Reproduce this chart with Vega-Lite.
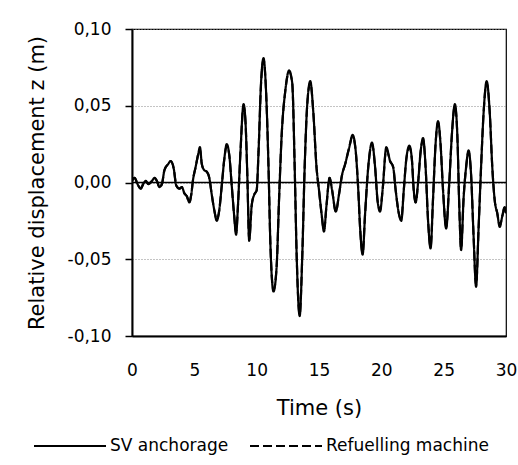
{
  "$schema": "https://vega.github.io/schema/vega-lite/v6.json",
  "width": 374,
  "height": 307,
  "autosize": {"type": "none"},
  "padding": {"left": 132, "top": 29, "right": 12, "bottom": 129},
  "background": "white",
  "config": {
    "font": "DejaVu Sans",
    "view": {"stroke": "black", "strokeWidth": 1.2}
  },
  "data": {
    "values": [
      {"t": 0.0, "SV anchorage": 0.001, "Refuelling machine": 0.001},
      {"t": 0.2, "SV anchorage": 0.003, "Refuelling machine": 0.003},
      {"t": 0.5, "SV anchorage": -0.002, "Refuelling machine": -0.002},
      {"t": 0.7, "SV anchorage": -0.004, "Refuelling machine": -0.004},
      {"t": 0.9, "SV anchorage": -0.001, "Refuelling machine": -0.001},
      {"t": 1.1, "SV anchorage": 0.001, "Refuelling machine": 0.001},
      {"t": 1.3, "SV anchorage": -0.001, "Refuelling machine": -0.001},
      {"t": 1.6, "SV anchorage": 0.001, "Refuelling machine": 0.001},
      {"t": 1.8, "SV anchorage": 0.003, "Refuelling machine": 0.003},
      {"t": 2.0, "SV anchorage": 0.001, "Refuelling machine": 0.001},
      {"t": 2.2, "SV anchorage": -0.003, "Refuelling machine": -0.003},
      {"t": 2.4, "SV anchorage": -0.001, "Refuelling machine": -0.001},
      {"t": 2.6, "SV anchorage": 0.008, "Refuelling machine": 0.008},
      {"t": 2.9, "SV anchorage": 0.012, "Refuelling machine": 0.012},
      {"t": 3.1, "SV anchorage": 0.014, "Refuelling machine": 0.014},
      {"t": 3.35, "SV anchorage": 0.009, "Refuelling machine": 0.009},
      {"t": 3.55, "SV anchorage": -0.002, "Refuelling machine": -0.002},
      {"t": 3.8, "SV anchorage": -0.004, "Refuelling machine": -0.004},
      {"t": 4.0, "SV anchorage": -0.003, "Refuelling machine": -0.003},
      {"t": 4.2, "SV anchorage": -0.007, "Refuelling machine": -0.007},
      {"t": 4.4, "SV anchorage": -0.009, "Refuelling machine": -0.009},
      {"t": 4.6, "SV anchorage": -0.013, "Refuelling machine": -0.013},
      {"t": 4.75, "SV anchorage": -0.008, "Refuelling machine": -0.008},
      {"t": 4.9, "SV anchorage": 0.002, "Refuelling machine": 0.002},
      {"t": 5.1, "SV anchorage": 0.010, "Refuelling machine": 0.010},
      {"t": 5.3, "SV anchorage": 0.018, "Refuelling machine": 0.018},
      {"t": 5.45, "SV anchorage": 0.023, "Refuelling machine": 0.022},
      {"t": 5.6, "SV anchorage": 0.012, "Refuelling machine": 0.012},
      {"t": 5.8, "SV anchorage": 0.008, "Refuelling machine": 0.008},
      {"t": 6.0, "SV anchorage": 0.007, "Refuelling machine": 0.007},
      {"t": 6.2, "SV anchorage": 0.003, "Refuelling machine": 0.003},
      {"t": 6.4, "SV anchorage": -0.008, "Refuelling machine": -0.008},
      {"t": 6.6, "SV anchorage": -0.018, "Refuelling machine": -0.018},
      {"t": 6.8, "SV anchorage": -0.025, "Refuelling machine": -0.024},
      {"t": 7.0, "SV anchorage": -0.018, "Refuelling machine": -0.018},
      {"t": 7.2, "SV anchorage": -0.002, "Refuelling machine": -0.002},
      {"t": 7.4, "SV anchorage": 0.015, "Refuelling machine": 0.015},
      {"t": 7.6, "SV anchorage": 0.025, "Refuelling machine": 0.024},
      {"t": 7.8, "SV anchorage": 0.018, "Refuelling machine": 0.018},
      {"t": 8.0, "SV anchorage": -0.002, "Refuelling machine": -0.002},
      {"t": 8.2, "SV anchorage": -0.022, "Refuelling machine": -0.022},
      {"t": 8.35, "SV anchorage": -0.034, "Refuelling machine": -0.033},
      {"t": 8.5, "SV anchorage": -0.015, "Refuelling machine": -0.015},
      {"t": 8.7, "SV anchorage": 0.020, "Refuelling machine": 0.020},
      {"t": 8.95, "SV anchorage": 0.051, "Refuelling machine": 0.050},
      {"t": 9.1, "SV anchorage": 0.040, "Refuelling machine": 0.040},
      {"t": 9.25, "SV anchorage": 0.005, "Refuelling machine": 0.005},
      {"t": 9.4, "SV anchorage": -0.038, "Refuelling machine": -0.037},
      {"t": 9.6, "SV anchorage": -0.015, "Refuelling machine": -0.015},
      {"t": 9.8, "SV anchorage": -0.008, "Refuelling machine": -0.008},
      {"t": 10.0, "SV anchorage": -0.005, "Refuelling machine": -0.005},
      {"t": 10.15, "SV anchorage": 0.020, "Refuelling machine": 0.020},
      {"t": 10.35, "SV anchorage": 0.065, "Refuelling machine": 0.064},
      {"t": 10.55, "SV anchorage": 0.081, "Refuelling machine": 0.080},
      {"t": 10.75, "SV anchorage": 0.060, "Refuelling machine": 0.060},
      {"t": 10.95, "SV anchorage": 0.010, "Refuelling machine": 0.010},
      {"t": 11.1, "SV anchorage": -0.040, "Refuelling machine": -0.040},
      {"t": 11.35, "SV anchorage": -0.071, "Refuelling machine": -0.070},
      {"t": 11.6, "SV anchorage": -0.055, "Refuelling machine": -0.055},
      {"t": 11.8, "SV anchorage": -0.010, "Refuelling machine": -0.010},
      {"t": 12.0, "SV anchorage": 0.030, "Refuelling machine": 0.030},
      {"t": 12.3, "SV anchorage": 0.060, "Refuelling machine": 0.060},
      {"t": 12.6, "SV anchorage": 0.073, "Refuelling machine": 0.072},
      {"t": 12.85, "SV anchorage": 0.065, "Refuelling machine": 0.065},
      {"t": 13.05, "SV anchorage": 0.010, "Refuelling machine": 0.010},
      {"t": 13.2, "SV anchorage": -0.045, "Refuelling machine": -0.045},
      {"t": 13.45, "SV anchorage": -0.087, "Refuelling machine": -0.086},
      {"t": 13.65, "SV anchorage": -0.050, "Refuelling machine": -0.050},
      {"t": 13.85, "SV anchorage": 0.010, "Refuelling machine": 0.010},
      {"t": 14.05, "SV anchorage": 0.050, "Refuelling machine": 0.050},
      {"t": 14.3, "SV anchorage": 0.066, "Refuelling machine": 0.065},
      {"t": 14.55, "SV anchorage": 0.045, "Refuelling machine": 0.045},
      {"t": 14.8, "SV anchorage": 0.010, "Refuelling machine": 0.010},
      {"t": 15.0, "SV anchorage": -0.005, "Refuelling machine": -0.005},
      {"t": 15.2, "SV anchorage": -0.020, "Refuelling machine": -0.020},
      {"t": 15.4, "SV anchorage": -0.032, "Refuelling machine": -0.031},
      {"t": 15.6, "SV anchorage": -0.015, "Refuelling machine": -0.015},
      {"t": 15.85, "SV anchorage": 0.003, "Refuelling machine": 0.003},
      {"t": 16.05, "SV anchorage": -0.005, "Refuelling machine": -0.005},
      {"t": 16.35, "SV anchorage": -0.019, "Refuelling machine": -0.019},
      {"t": 16.6, "SV anchorage": -0.008, "Refuelling machine": -0.008},
      {"t": 16.85, "SV anchorage": 0.005, "Refuelling machine": 0.005},
      {"t": 17.1, "SV anchorage": 0.012, "Refuelling machine": 0.012},
      {"t": 17.4, "SV anchorage": 0.022, "Refuelling machine": 0.022},
      {"t": 17.7, "SV anchorage": 0.031, "Refuelling machine": 0.030},
      {"t": 17.95, "SV anchorage": 0.020, "Refuelling machine": 0.020},
      {"t": 18.15, "SV anchorage": -0.005, "Refuelling machine": -0.005},
      {"t": 18.3, "SV anchorage": -0.030, "Refuelling machine": -0.030},
      {"t": 18.5, "SV anchorage": -0.047, "Refuelling machine": -0.046},
      {"t": 18.7, "SV anchorage": -0.020, "Refuelling machine": -0.020},
      {"t": 18.95, "SV anchorage": 0.010, "Refuelling machine": 0.010},
      {"t": 19.25, "SV anchorage": 0.026, "Refuelling machine": 0.025},
      {"t": 19.5, "SV anchorage": 0.010, "Refuelling machine": 0.010},
      {"t": 19.7, "SV anchorage": -0.012, "Refuelling machine": -0.012},
      {"t": 19.9, "SV anchorage": -0.019, "Refuelling machine": -0.018},
      {"t": 20.1, "SV anchorage": -0.005, "Refuelling machine": -0.005},
      {"t": 20.4, "SV anchorage": 0.023, "Refuelling machine": 0.022},
      {"t": 20.7, "SV anchorage": 0.014, "Refuelling machine": 0.014},
      {"t": 20.95, "SV anchorage": 0.010, "Refuelling machine": 0.010},
      {"t": 21.15, "SV anchorage": -0.005, "Refuelling machine": -0.005},
      {"t": 21.4, "SV anchorage": -0.020, "Refuelling machine": -0.020},
      {"t": 21.6, "SV anchorage": -0.025, "Refuelling machine": -0.024},
      {"t": 21.8, "SV anchorage": -0.005, "Refuelling machine": -0.005},
      {"t": 22.0, "SV anchorage": 0.015, "Refuelling machine": 0.015},
      {"t": 22.25, "SV anchorage": 0.024, "Refuelling machine": 0.023},
      {"t": 22.45, "SV anchorage": 0.015, "Refuelling machine": 0.015},
      {"t": 22.6, "SV anchorage": -0.005, "Refuelling machine": -0.005},
      {"t": 22.75, "SV anchorage": -0.013, "Refuelling machine": -0.013},
      {"t": 22.95, "SV anchorage": 0.000, "Refuelling machine": 0.000},
      {"t": 23.15, "SV anchorage": 0.020, "Refuelling machine": 0.020},
      {"t": 23.35, "SV anchorage": 0.029, "Refuelling machine": 0.028},
      {"t": 23.55, "SV anchorage": 0.010, "Refuelling machine": 0.010},
      {"t": 23.75, "SV anchorage": -0.025, "Refuelling machine": -0.025},
      {"t": 23.95, "SV anchorage": -0.043, "Refuelling machine": -0.042},
      {"t": 24.15, "SV anchorage": -0.010, "Refuelling machine": -0.010},
      {"t": 24.35, "SV anchorage": 0.025, "Refuelling machine": 0.025},
      {"t": 24.55, "SV anchorage": 0.040, "Refuelling machine": 0.039},
      {"t": 24.75, "SV anchorage": 0.025, "Refuelling machine": 0.025},
      {"t": 24.95, "SV anchorage": -0.005, "Refuelling machine": -0.005},
      {"t": 25.2, "SV anchorage": -0.030, "Refuelling machine": -0.029},
      {"t": 25.45, "SV anchorage": 0.000, "Refuelling machine": 0.000},
      {"t": 25.65, "SV anchorage": 0.030, "Refuelling machine": 0.030},
      {"t": 25.9, "SV anchorage": 0.051, "Refuelling machine": 0.050},
      {"t": 26.1, "SV anchorage": 0.030, "Refuelling machine": 0.030},
      {"t": 26.25, "SV anchorage": -0.015, "Refuelling machine": -0.015},
      {"t": 26.4, "SV anchorage": -0.044, "Refuelling machine": -0.043},
      {"t": 26.6, "SV anchorage": -0.010, "Refuelling machine": -0.010},
      {"t": 26.8, "SV anchorage": 0.010, "Refuelling machine": 0.010},
      {"t": 27.0, "SV anchorage": 0.021, "Refuelling machine": 0.020},
      {"t": 27.2, "SV anchorage": 0.005, "Refuelling machine": 0.005},
      {"t": 27.4, "SV anchorage": -0.035, "Refuelling machine": -0.035},
      {"t": 27.6, "SV anchorage": -0.068, "Refuelling machine": -0.067},
      {"t": 27.8, "SV anchorage": -0.030, "Refuelling machine": -0.030},
      {"t": 28.0, "SV anchorage": 0.010, "Refuelling machine": 0.010},
      {"t": 28.2, "SV anchorage": 0.045, "Refuelling machine": 0.045},
      {"t": 28.45, "SV anchorage": 0.066, "Refuelling machine": 0.065},
      {"t": 28.7, "SV anchorage": 0.045, "Refuelling machine": 0.045},
      {"t": 28.9, "SV anchorage": 0.010, "Refuelling machine": 0.010},
      {"t": 29.1, "SV anchorage": -0.012, "Refuelling machine": -0.012},
      {"t": 29.3, "SV anchorage": -0.020, "Refuelling machine": -0.020},
      {"t": 29.5, "SV anchorage": -0.029, "Refuelling machine": -0.028},
      {"t": 29.7, "SV anchorage": -0.022, "Refuelling machine": -0.022},
      {"t": 29.9, "SV anchorage": -0.016, "Refuelling machine": -0.016},
      {"t": 30.0, "SV anchorage": -0.020, "Refuelling machine": -0.020}
    ]
  },
  "layer": [
    {
      "transform": [{"fold": ["SV anchorage", "Refuelling machine"], "as": ["series", "z"]}],
      "mark": {"type": "line", "interpolate": "monotone", "strokeWidth": 2.2, "color": "black", "clip": true},
      "encoding": {
        "x": {
          "field": "t", "type": "quantitative",
          "scale": {"domain": [0, 30], "nice": false},
          "axis": {
            "values": [0, 5, 10, 15, 20, 25, 30],
            "title": "Time (s)", "titleFontSize": 21, "titleFontWeight": "normal", "titleColor": "black", "titlePadding": 19,
            "labelFontSize": 17, "labelColor": "black", "labelPadding": 26, "labelFlush": false,
            "ticks": false, "grid": false,
            "domainColor": "black", "domainWidth": 2
          }
        },
        "y": {
          "field": "z", "type": "quantitative",
          "scale": {"domain": [-0.1, 0.1], "nice": false},
          "axis": {
            "values": [-0.1, -0.05, 0, 0.05, 0.1],
            "labelExpr": "replace(replace(format(datum.value, '.2f'), '.', ','), '\u2212', '-')",
            "title": "Relative displacement z (m)", "titleFontSize": 21, "titleFontWeight": "normal", "titleColor": "black", "titlePadding": 20,
            "labelFontSize": 17, "labelColor": "black", "labelPadding": 14,
            "tickSize": 7, "tickColor": "black", "tickWidth": 1.5,
            "grid": true, "gridDash": [1, 2], "gridColor": "#888888", "gridWidth": 1,
            "domainColor": "black", "domainWidth": 2
          }
        },
        "strokeDash": {
          "field": "series", "type": "nominal",
          "scale": {"domain": ["SV anchorage", "Refuelling machine"], "range": [[1, 0], [9, 4]]},
          "legend": {
            "orient": "none", "legendX": -99, "legendY": 380, "direction": "horizontal",
            "title": null, "symbolType": "stroke", "symbolSize": 5184, "symbolStrokeWidth": 1.8,
            "symbolStrokeColor": "black", "labelFontSize": 17, "labelColor": "black", "labelLimit": 300,
            "labelOffset": 3, "columnPadding": 17
          }
        }
      }
    },
    {
      "data": {"values": [{}]},
      "mark": {"type": "rule", "color": "black", "strokeWidth": 1.5},
      "encoding": {"y": {"datum": 0}}
    }
  ]
}
